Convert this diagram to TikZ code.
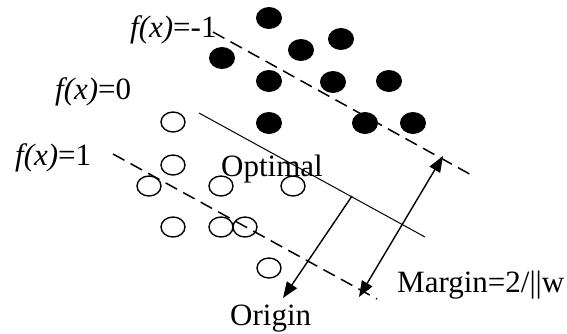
\documentclass[tikz,border=0pt]{standalone}
\usepackage{fontspec}
\setmainfont{Liberation Serif}
\usetikzlibrary{shapes.geometric,arrows.meta}
\begin{document}
\begin{tikzpicture}[x=1pt,y=-1pt,
  filledpt/.style={ellipse,fill=black,minimum width=26pt,minimum height=22pt,inner sep=0pt},
  openpt/.style={ellipse,draw=black,line width=1.4pt,minimum width=24pt,minimum height=20pt,inner sep=0pt},
  lbl/.style={anchor=base west,inner sep=0pt,font=\fontsize{31}{37}\selectfont},
  bound/.style={dash pattern=on 13pt off 7pt,line width=1.5pt},
  hyper/.style={line width=1pt},
  arrowtip/.tip={Triangle[length=16pt,width=12pt]},
  arr/.style={line width=1.4pt,-arrowtip},
  darr/.style={line width=1.4pt,arrowtip-arrowtip}
]
\useasboundingbox (0,0) rectangle (567,333);
% hyperplanes
\coordinate (m1a) at (213,32);  \coordinate (m1b) at (475,177);
\coordinate (h0a) at (199,113); \coordinate (h0b) at (425,237);
\coordinate (p1a) at (113,154); \coordinate (p1b) at (377,299);
\draw[bound] (m1a) -- (m1b);
\draw[hyper] (h0a) -- (h0b);
\draw[bound] (p1a) -- (p1b);
% filled points
\node[filledpt] (n1) at (269,18) {};
\node[filledpt] (n2) at (301,50) {};
\node[filledpt] (n3) at (341,39) {};
\node[filledpt] (n4) at (222,58) {};
\node[filledpt] (n5) at (269,81) {};
\node[filledpt] (n6) at (333,82) {};
\node[filledpt] (n7) at (389,81) {};
\node[filledpt] (n8) at (269,123) {};
\node[filledpt] (n9) at (365,123) {};
\node[filledpt] (n10) at (413,123) {};
% open points
\node[openpt] (o1) at (173,122) {};
\node[openpt] (o2) at (173,165) {};
\node[openpt] (o3) at (149,186) {};
\node[openpt] (o4) at (221,186) {};
\node[openpt] (o5) at (293,186) {};
\node[openpt] (o6) at (173,227) {};
\node[openpt] (o7) at (221,227) {};
\node[openpt] (o8) at (245,227) {};
\node[openpt] (o9) at (269,268) {};
% labels
\node[lbl] (lm1) at (130,37) {\textit{f(x)}=-1};
\node[lbl] (l0) at (55,99) {\textit{f(x)}=0};
\node[lbl] (lp1) at (15,165) {\textit{f(x)}=1};
\node[lbl] (lopt) at (221,176) {Optimal};
\node[lbl] (lorig) at (230,325) {Origin};
\node[lbl] (lmarg) at (397,292) {Margin=2/||w};
% arrows
\coordinate (os) at (352,196);
\coordinate (oe) at (283,298);
\coordinate (ma) at (359,297);
\coordinate (mb) at (443,156);
\draw[arr] (os) -- (oe);
\draw[darr] (ma) -- (mb);
\end{tikzpicture}
\end{document}
